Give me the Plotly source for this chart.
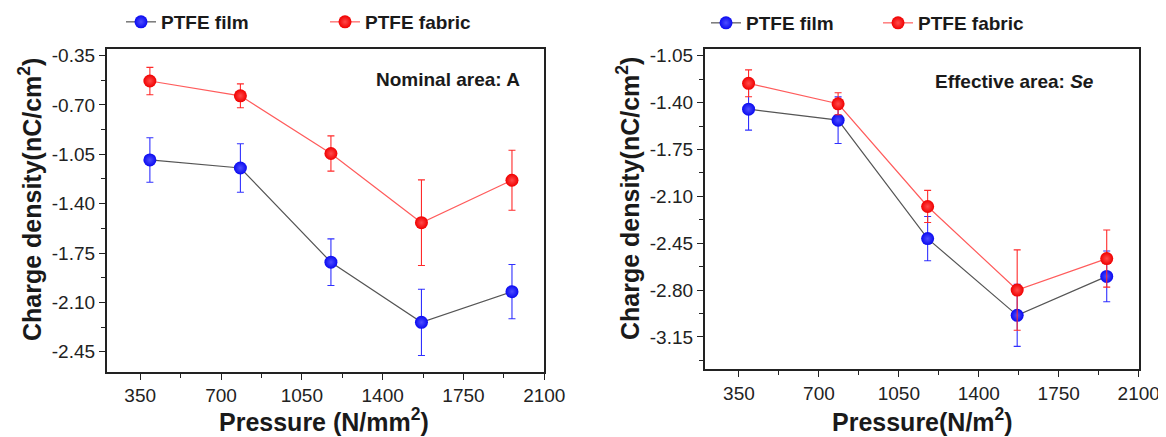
import plotly.graph_objects as go

# ---------------- data ----------------
pressure = [392, 784, 1176, 1568, 1960]

nominal_film = [-1.090, -1.147, -1.815, -2.242, -2.024]
nominal_film_err = [0.158, 0.172, 0.165, 0.235, 0.192]
nominal_fabric = [-0.530, -0.635, -1.044, -1.535, -1.234]
nominal_fabric_err = [0.097, 0.085, 0.125, 0.304, 0.213]

effective_film = [-1.449, -1.531, -2.416, -2.989, -2.698]
effective_film_err = [0.157, 0.174, 0.165, 0.232, 0.190]
effective_fabric = [-1.256, -1.409, -2.176, -2.800, -2.565]
effective_fabric_err = [0.100, 0.082, 0.120, 0.300, 0.213]

x_ticks = [350, 700, 1050, 1400, 1750, 2100]
y_ticks_nominal = [-0.35, -0.70, -1.05, -1.40, -1.75, -2.10, -2.45]
y_ticks_effective = [-1.05, -1.40, -1.75, -2.10, -2.45, -2.80, -3.15]

series_names = ["PTFE film", "PTFE fabric"]

# ---------------- style ----------------
FONT = "Arial, Liberation Sans, Helvetica, sans-serif"
TXT = "#1a1a1a"
DX, DY = 8, 8          # the page body offsets the figure by 8 px
W, H = 1166 - DX, 437 - DY


def px(x):
    return (x - DX) / W


def py(y):
    return 1 - (y - DY) / H


def minor_vals(ticks):
    vals = [(a + b) / 2 for a, b in zip(ticks[:-1], ticks[1:])]
    step = ticks[1] - ticks[0]
    return [ticks[0] - step / 2] + vals + [ticks[-1] + step / 2]


fig = go.Figure()


def add_series(y, err, name, color, shine, linecolor, errcolor, xa, ya, legend):
    fig.add_trace(go.Scatter(
        x=pressure, y=y, name=name, mode="lines+markers",
        xaxis=xa, yaxis=ya, legend=legend,
        line=dict(color=linecolor, width=1.2),
        marker=dict(color=color, size=13, line=dict(width=0),
                    gradient=dict(type="radial", color=shine)),
        error_y=dict(type="data", array=err, visible=True, color=errcolor,
                     thickness=1.1, width=3.5),
    ))


BLUE, RED = "#0a0af0", "#f00000"
BLUE_SHINE, RED_SHINE = "#4d4dff", "#ff4a4a"
add_series(nominal_film, nominal_film_err, series_names[0], BLUE, BLUE_SHINE, "#555555", "#3030ff", "x", "y", "legend")
add_series(nominal_fabric, nominal_fabric_err, series_names[1], RED, RED_SHINE, "#ff5c5c", "#ff2a2a", "x", "y", "legend")
add_series(effective_film, effective_film_err, series_names[0], BLUE, BLUE_SHINE, "#555555", "#3030ff", "x2", "y2", "legend2")
add_series(effective_fabric, effective_fabric_err, series_names[1], RED, RED_SHINE, "#ff5c5c", "#ff2a2a", "x2", "y2", "legend2")

axis_common = dict(
    showline=True, linecolor="#222222", linewidth=1.6, mirror=True,
    ticks="outside", ticklen=6, tickwidth=1.3, tickcolor="#222222",
    showgrid=False, zeroline=False, automargin=False,
    tickfont=dict(family=FONT, size=19, color="#222222"),
)


def xaxis(domain, rng, anchor):
    return dict(axis_common, domain=domain, range=rng, anchor=anchor,
                tickvals=x_ticks, ticktext=[str(v) for v in x_ticks],
                minor=dict(tickvals=minor_vals(x_ticks), ticklen=4, tickwidth=1.2,
                           tickcolor="#222222", ticks="outside"))


def yaxis(domain, rng, ticks, anchor):
    return dict(axis_common, domain=domain, range=rng, anchor=anchor,
                tickvals=ticks, ticktext=[f"{v:.2f}" for v in ticks],
                minor=dict(tickvals=minor_vals(ticks), ticklen=4, tickwidth=1.2,
                           tickcolor="#222222", ticks="outside"))


L_dom = [px(106.7), px(544.3)]
R_dom = [px(704.7), px(1138.7)]
yL_dom = [py(371.7), py(49.3)]
yR_dom = [py(369.3), py(49.3)]

legend_common = dict(orientation="h", xanchor="left", yanchor="middle",
                     bgcolor="rgba(0,0,0,0)", borderwidth=0,
                     font=dict(family=FONT, size=19, color=TXT, weight="bold"),
                     entrywidthmode="pixels", tracegroupgap=0)

fig.update_layout(
    width=W, height=H,
    margin=dict(l=0, r=0, t=0, b=0, autoexpand=False),
    paper_bgcolor="white", plot_bgcolor="white",
    showlegend=True,
    xaxis=xaxis(L_dom, [205, 2100], "y"),
    yaxis=yaxis(yL_dom, [-2.592, -0.305], y_ticks_nominal, "x"),
    xaxis2=xaxis(R_dom, [200, 2100], "y2"),
    yaxis2=yaxis(yR_dom, [-3.392, -1.002], y_ticks_effective, "x2"),
    legend=dict(legend_common, x=px(121), y=py(22), entrywidth=159),
    legend2=dict(legend_common, x=px(706), y=py(23), entrywidth=127),
)

ann_font_big = dict(family=FONT, size=25, color=TXT)
ann_font_mid = dict(family=FONT, size=19, color=TXT)

annotations = [
    dict(text="<b>Charge density(nC/cm<sup>2</sup>)</b>", textangle=-90,
         x=px(30), y=py(200), font=ann_font_big),
    dict(text="<b>Charge density(nC/cm<sup>2</sup>)</b>", textangle=-90,
         x=px(628), y=py(199), font=ann_font_big),
    dict(text="<b>Pressure (N/mm<sup>2</sup>)</b>",
         x=px(324), y=py(420), font=ann_font_big),
    dict(text="<b>Pressure(N/m<sup>2</sup>)</b>",
         x=px(922), y=py(420), font=ann_font_big),
    dict(text="<b>Nominal area: A</b>", x=px(521.7), xanchor="right",
         y=py(79.3), font=ann_font_mid),
    dict(text="<b>Effective area: <i>Se</i></b>", x=px(1095.7), xanchor="right",
         y=py(81.7), font=ann_font_mid),
]
for a in annotations:
    a.setdefault("xanchor", "center")
    a.update(xref="paper", yref="paper", yanchor="middle", showarrow=False)
fig.update_layout(annotations=annotations)

fig.write_html("out.html")
